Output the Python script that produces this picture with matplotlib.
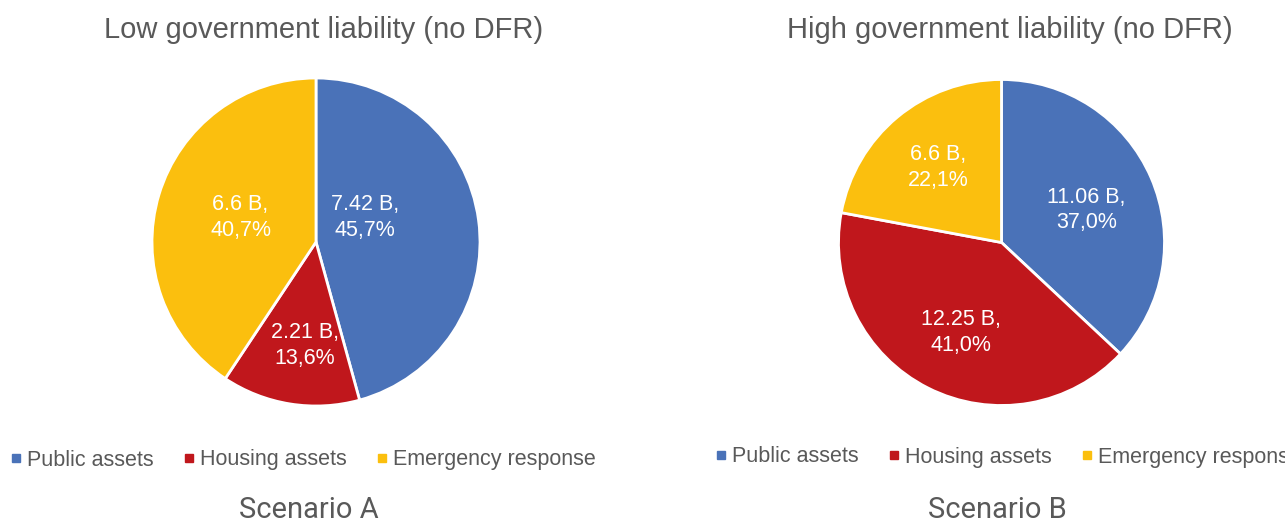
import matplotlib.pyplot as plt
from matplotlib.lines import Line2D

# ---------- data ----------
categories = ["Public assets", "Housing assets", "Emergency response"]
low_values = [7.42, 2.21, 6.6]
high_values = [11.06, 12.25, 6.6]
low_title = "Low government liability (no DFR)"
high_title = "High government liability (no DFR)"
scenario_names = ["Scenario A", "Scenario B"]

colors = ["#4A72B8", "#C0171C", "#FBBF0E"]
grey = "#595959"

# label offsets inside the pie (in radius units), like Excel "best fit"
low_label_pos = [(0.30, 0.15), (-0.07, -0.63), (-0.46, 0.15)]
high_label_pos = [(0.52, 0.20), (-0.25, -0.55), (-0.39, 0.46)]

W, H = 1285, 523
fig = plt.figure(figsize=(W / 100, H / 100), dpi=100)
plt.rcParams['font.family'] = ['Liberation Sans', 'DejaVu Sans']


def pie_axes(cx, cy, r):
    # cx, cy in pixels from top left
    return fig.add_axes([(cx - r) / W, (H - cy - r) / H, 2 * r / W, 2 * r / H])


def draw_pie(ax, values, label_pos):
    ax.pie(values, colors=colors, startangle=90, counterclock=False, radius=1,
           wedgeprops=dict(edgecolor="white", linewidth=2))
    total = sum(values)
    for v, (x, y) in zip(values, label_pos):
        pct = ("%.1f" % (100 * v / total)).replace(".", ",")
        ax.text(x, y, "%s B,\n%s%%" % (("%.2f" % v).rstrip("0").rstrip("."), pct),
                ha="center", va="center", color="white", fontsize=15.5, linespacing=1.3)
    ax.set_xlim(-1, 1)
    ax.set_ylim(-1, 1)
    ax.set_aspect("equal")
    ax.axis("off")


ax1 = pie_axes(316, 242, 164)
draw_pie(ax1, low_values, low_label_pos)
ax2 = pie_axes(1001.5, 242.5, 163)
draw_pie(ax2, high_values, high_label_pos)

fig.text(324 / W, 1 - 30 / H, low_title, ha="center", va="center", fontsize=21, color=grey)
fig.text(1010 / W, 1 - 30 / H, high_title, ha="center", va="center", fontsize=21, color=grey)

handles = [Line2D([], [], marker="s", linestyle="none", markersize=6, color=c) for c in colors]
for x0, y0 in [(11, 460), (716, 457)]:
    fig.legend(handles, categories, loc="center left", bbox_to_anchor=(x0 / W, 1 - y0 / H),
               ncol=3, frameon=False, fontsize=15.5, handlelength=0.5, handletextpad=0.25,
               columnspacing=1.4, borderaxespad=0, borderpad=0, labelcolor=grey)

fig.text(309 / W, 1 - 510 / H, scenario_names[0], ha="center", va="center",
         fontsize=21, color=grey, family=["Roboto", "DejaVu Sans"])
fig.text(997 / W, 1 - 510 / H, scenario_names[1], ha="center", va="center",
         fontsize=21, color=grey, family=["Roboto", "DejaVu Sans"])

fig.savefig("out.png", dpi=100, facecolor="white")
